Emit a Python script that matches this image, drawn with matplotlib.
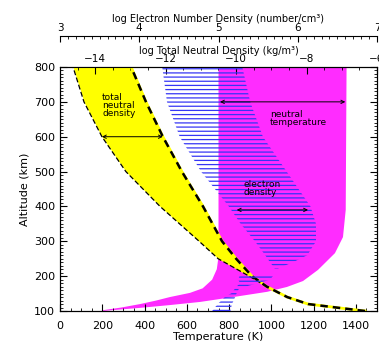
import matplotlib
matplotlib.use("Agg")
import matplotlib.pyplot as plt
from matplotlib.ticker import MultipleLocator

# total neutral density band, log10 (kg/m^3)
RHO_ALT = [100, 110, 120, 140, 170, 200, 250, 300, 400, 500, 600, 700, 800]
RHO_MIN = [-6.34, -7.16, -7.96, -8.55, -9.13, -9.63, -10.51, -11.05, -12.16,
           -13.13, -13.81, -14.32, -14.63]
RHO_MAX = [-6.34, -7.16, -7.96, -8.55, -9.13, -9.55, -10.00, -10.40, -10.94,
           -11.54, -12.08, -12.56, -12.98]

# neutral temperature band (K)
T_ALT_LO = [102, 110, 120, 130, 140, 152, 165, 190, 220, 255, 800]
T_LO = [200, 290, 380, 455, 520, 615, 675, 720, 742, 750, 750]
T_ALT_HI = [100, 109, 117, 126, 143, 155, 169, 186, 218, 266, 312, 390, 800]
T_HI = [200, 379, 520, 663, 852, 980, 1074, 1150, 1221, 1301, 1339, 1352, 1356]

# electron density band, log10 (number/cm^3): F region and E region
NE_ALT_F = [222, 240, 260, 300, 350, 400, 500, 600, 700, 800]
NE_MIN_F = [5.71, 5.65, 5.59, 5.46, 5.28, 5.13, 4.78, 4.51, 4.35, 4.29]
NE_MAX_F = [5.75, 5.94, 6.12, 6.23, 6.23, 6.16, 5.86, 5.56, 5.40, 5.30]
NE_ALT_E = [100, 120, 140, 152, 165, 180, 190, 204]
NE_MIN_E = [4.92, 4.99, 5.08, 5.17, 5.21, 5.27, 5.25, 5.27]
NE_MAX_E = [5.15, 5.17, 5.21, 5.23, 5.26, 5.50, 5.65, 5.70]

YELLOW = "#ffff00"
MAGENTA = "#ff2cff"
BLUE = "#3535f5"

plt.rcParams["hatch.linewidth"] = 0.9

fig = plt.figure(figsize=(3.79, 3.41), dpi=100)
ax = fig.add_axes([60 / 379, 30 / 341, 317 / 379, 244 / 341])
ax.set_xlim(0, 1500)
ax.set_ylim(100, 800)

axn = ax.twiny()
axn.set_xlim(-15, -6)
axe = ax.twiny()
axe.set_xlim(3, 7)
axe.spines["top"].set_position(("outward", 22.5))
for s in ["bottom", "left", "right"]:
    axe.spines[s].set_visible(False)

# temperature band
ax.fill(T_LO + T_HI[::-1], T_ALT_LO + T_ALT_HI[::-1], color=MAGENTA, lw=0)

# neutral density band
axn.fill_betweenx(RHO_ALT, RHO_MIN, RHO_MAX, color=YELLOW, lw=0)
axn.plot(RHO_MAX, RHO_ALT, color=YELLOW, lw=2.0)
axn.plot(RHO_MAX, RHO_ALT, color="k", lw=1.8, dashes=(3, 2))
axn.plot(RHO_MIN[4:], RHO_ALT[4:], color="k", lw=0.9, dashes=(4, 2))

# electron density (horizontal hatching)
for alt, lo, hi in [(NE_ALT_F, NE_MIN_F, NE_MAX_F), (NE_ALT_E, NE_MIN_E, NE_MAX_E)]:
    axe.fill_betweenx(alt, lo, hi, facecolor="none", edgecolor=BLUE,
                      hatch="----", lw=0)

# arrows and labels
arrow = dict(arrowstyle="<->", lw=0.7, color="k", mutation_scale=6,
             shrinkA=0, shrinkB=0)
axe.annotate("", xy=(-12.08, 600), xytext=(-13.81, 600),
             xycoords=axn.transData, arrowprops=arrow)
axe.annotate("", xy=(1350, 700), xytext=(757, 700),
             xycoords=ax.transData, arrowprops=arrow)
axe.annotate("", xy=(6.13, 390), xytext=(5.23, 390),
             xycoords=axe.transData, arrowprops=arrow)

txt = dict(fontsize=6.5, ha="left", va="top", linespacing=0.85,
           transform=ax.transData)
axe.text(199, 724, "total\nneutral\ndensity", **txt)
axe.text(994, 676, "neutral\ntemperature", **txt)
axe.text(866, 475, "electron\ndensity", **txt)

# ticks and labels
ax.xaxis.set_major_locator(MultipleLocator(200))
ax.xaxis.set_minor_locator(MultipleLocator(50))
ax.yaxis.set_major_locator(MultipleLocator(100))
ax.yaxis.set_minor_locator(MultipleLocator(10))
ax.tick_params(which="both", direction="in", top=False, right=True,
               labelsize=8)
ax.tick_params(which="major", length=5)
ax.tick_params(which="minor", length=2.5)
ax.tick_params(axis="x", pad=7)
ax.set_xlabel("Temperature (K)", fontsize=8, labelpad=1)
ax.set_ylabel("Altitude (km)", fontsize=8, labelpad=3)

axn.xaxis.set_major_locator(MultipleLocator(2))
axn.xaxis.set_minor_locator(MultipleLocator(0.5))
axn.tick_params(which="both", direction="in", labelsize=7.5, pad=2)
axn.tick_params(which="major", length=5)
axn.tick_params(which="minor", length=2.5)
axn.set_xlabel("log Total Neutral Density (kg/m³)", fontsize=7, labelpad=0.5)

axe.xaxis.set_major_locator(MultipleLocator(1))
axe.xaxis.set_minor_locator(MultipleLocator(0.1))
axe.tick_params(which="both", direction="in", labelsize=7.5, pad=2)
axe.tick_params(which="major", length=4)
axe.tick_params(which="minor", length=2)
axe.set_xlabel("log Electron Number Density (number/cm³)", fontsize=7,
               labelpad=1)

fig.savefig("out.png", dpi=100)
